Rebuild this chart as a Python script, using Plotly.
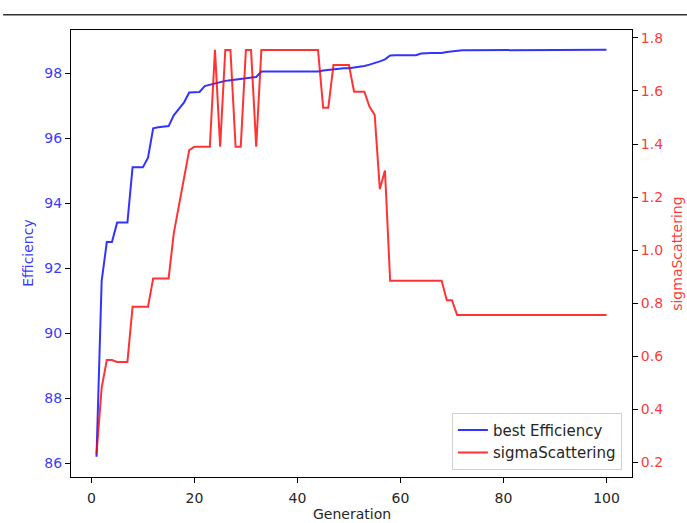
import plotly.graph_objects as go

generation = list(range(1, 101))

best_efficiency = (
    [86.2, 91.6, 92.8, 92.8, 93.4, 93.4, 93.4, 95.1, 95.1, 95.1,
     95.4, 96.3, 96.33, 96.35, 96.37, 96.7, 96.9, 97.1, 97.4, 97.4,
     97.42, 97.6, 97.64, 97.7, 97.74, 97.76, 97.78, 97.8, 97.8, 97.83,
     97.86, 97.88]
    + [98.05] * 12
    + [98.08, 98.1, 98.12, 98.13, 98.15, 98.15, 98.17, 98.2, 98.22, 98.26,
       98.3, 98.36, 98.42, 98.54, 98.55, 98.55, 98.55, 98.55, 98.55, 98.6,
       98.62, 98.62, 98.62, 98.62, 98.65, 98.67, 98.69, 98.7, 98.7, 98.7,
       98.7, 98.7]
    + [98.72] * 24
)

sigma_scattering = (
    [0.23, 0.48, 0.585, 0.585, 0.578, 0.578, 0.578, 0.786, 0.786, 0.786,
     0.786, 0.893, 0.893, 0.893, 0.893, 1.063, 1.17, 1.27, 1.377, 1.39,
     1.39, 1.39, 1.39, 1.755, 1.39, 1.755, 1.755, 1.39, 1.39, 1.755,
     1.755, 1.39]
    + [1.755] * 12
    + [1.537, 1.537, 1.698, 1.698, 1.698, 1.698, 1.597, 1.597, 1.597, 1.54,
       1.51, 1.23, 1.30]
    + [0.884] * 11
    + [0.811, 0.811]
    + [0.755] * 30
)

x_ticks = [0, 20, 40, 60, 80, 100]
eff_ticks = [86, 88, 90, 92, 94, 96, 98]
sigma_ticks = [0.2, 0.4, 0.6, 0.8, 1.0, 1.2, 1.4, 1.6, 1.8]

BLUE = "rgba(0,0,255,0.8)"
RED = "rgba(255,0,0,0.8)"
FONT = "DejaVu Sans"
DARK = "#262626"

fig = go.Figure()
fig.add_trace(go.Scatter(x=generation, y=best_efficiency, mode="lines",
                         name="best Efficiency", line=dict(color=BLUE, width=2),
                         yaxis="y"))
fig.add_trace(go.Scatter(x=generation, y=sigma_scattering, mode="lines",
                         name="sigmaScattering", line=dict(color=RED, width=2),
                         yaxis="y2"))

fig.update_layout(
    width=687, height=523,
    margin=dict(l=71, r=55, t=30, b=46),
    paper_bgcolor="white", plot_bgcolor="white",
    font=dict(family=FONT, size=14, color=DARK),
    showlegend=True,
    legend=dict(x=0.982, y=0.016, xanchor="right", yanchor="bottom",
                bgcolor="white", bordercolor="#d0d0d0", borderwidth=1,
                font=dict(size=15, color=DARK), tracegroupgap=0,
                itemwidth=30),
    xaxis=dict(range=[-3.95, 104.95], tickvals=x_ticks, ticks="outside",
               ticklen=5, tickcolor="black", showgrid=False, zeroline=False,
               showline=True, linecolor="black", linewidth=1, mirror=True,
               ticklabelstandoff=3, automargin=False,
               tickfont=dict(size=14, color=DARK)),
    yaxis=dict(range=[85.575, 99.325], tickvals=eff_ticks, ticks="outside",
               ticklen=5, tickcolor="black", showgrid=False, zeroline=False,
               showline=True, linecolor="black", linewidth=1, automargin=False,
               tickfont=dict(size=14, color=BLUE)),
    yaxis2=dict(range=[0.144, 1.83], tickvals=sigma_ticks, tickformat=".1f",
                overlaying="y", side="right", ticks="outside", ticklen=5,
                tickcolor="black", showgrid=False, zeroline=False,
                showline=True, linecolor="black", linewidth=1, automargin=False,
                tickfont=dict(size=14, color=RED)),
)

# axis titles placed as annotations (paper coordinates)
fig.add_annotation(text="Generation", xref="paper", yref="paper",
                   x=0.5, y=-0.083, xanchor="center", yanchor="middle",
                   showarrow=False, font=dict(size=14, color=DARK))
fig.add_annotation(text="Efficiency", xref="paper", yref="paper",
                   x=-0.078, y=0.5, xanchor="center", yanchor="middle",
                   textangle=-90, showarrow=False, font=dict(size=14, color=BLUE))
fig.add_annotation(text="sigmaScattering", xref="paper", yref="paper",
                   x=1.079, y=0.5, xanchor="center", yanchor="middle",
                   textangle=-90, showarrow=False, font=dict(size=14, color=RED))

fig.add_shape(type="line", xref="paper", yref="paper",
              x0=-0.121, x1=1.1, y0=1.034, y1=1.034,
              line=dict(color="#333333", width=1.5))

fig.write_html("out.html")
